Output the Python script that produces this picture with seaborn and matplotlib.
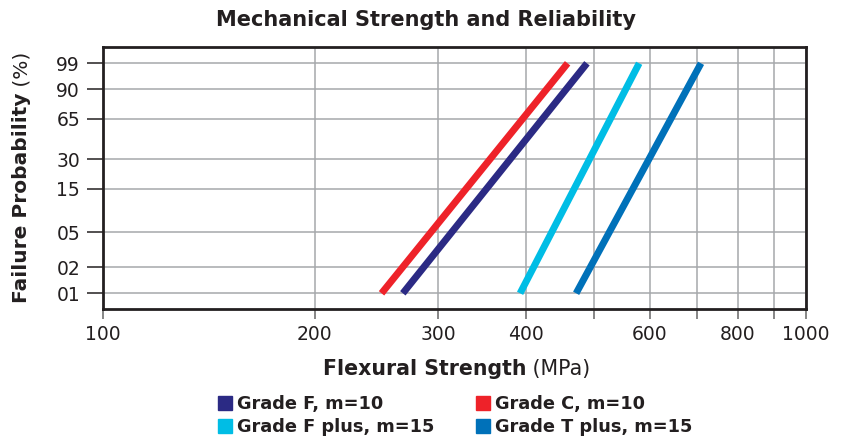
import numpy as np
import pandas as pd
import matplotlib
matplotlib.use("Agg")
import matplotlib.pyplot as plt
from matplotlib.lines import Line2D
from matplotlib.ticker import FixedLocator, FixedFormatter, NullLocator
import seaborn as sns

# ---------------- data ----------------
grades = ["Grade F, m=10", "Grade C, m=10", "Grade F plus, m=15", "Grade T plus, m=15"]
colors = ["#2B2A84", "#EE2229", "#00BDE5", "#0071B9"]
prob_pct = [1, 99]                      # failure probability at both line ends (%)
strength_low = [267, 249, 392, 471]     # MPa at 1 %
strength_high = [488, 458, 579, 709]    # MPa at 99 %

y_ticks = [99, 90, 65, 30, 15, 5, 2, 1]
y_tick_labels = ["99", "90", "65", "30", "15", "05", "02", "01"]
x_ticks = [100, 200, 300, 400, 500, 600, 700, 800, 900, 1000]
x_tick_labels = ["100", "200", "300", "400", "", "600", "", "800", "", "1000"]

rows = []
for g, lo, hi in zip(grades, strength_low, strength_high):
    rows.append({"grade": g, "strength": lo, "prob": prob_pct[0]})
    rows.append({"grade": g, "strength": hi, "prob": prob_pct[1]})
df = pd.DataFrame(rows)

sns.set_theme(style="white")
plt.rcParams["font.family"] = ["DejaVu Sans"]
dark = "#231F20"
gridc = "#A6A8AB"

fig = plt.figure(figsize=(8.43, 4.40), dpi=100)
ax = fig.add_axes([103 / 843, 1 - 309 / 440, (806 - 103) / 843, (309 - 47) / 440])

palette = dict(zip(grades, colors))
sns.lineplot(data=df, x="strength", y="prob", hue="grade", palette=palette,
             linewidth=5, solid_capstyle="butt", legend=False, ax=ax,
             estimator=None, sort=False)

# Weibull probability scale
def fwd(p):
    p = np.clip(np.asarray(p, dtype=float), 1e-6, 100 - 1e-6)
    return np.log(-np.log(1 - p / 100.0))

def inv(y):
    return 100.0 * (1 - np.exp(-np.exp(np.asarray(y, dtype=float))))

ax.set_xscale("log")
ax.set_yscale("function", functions=(fwd, inv))
ax.set_xlim(100, 1000)
ax.set_ylim(inv(-5.018), inv(1.961))

ax.xaxis.set_major_locator(FixedLocator(x_ticks))
ax.xaxis.set_major_formatter(FixedFormatter(x_tick_labels))
ax.xaxis.set_minor_locator(NullLocator())
ax.yaxis.set_major_locator(FixedLocator(y_ticks))
ax.yaxis.set_major_formatter(FixedFormatter(y_tick_labels))
ax.yaxis.set_minor_locator(NullLocator())

ax.grid(True, color=gridc, linewidth=1.1)
ax.set_axisbelow(True)
for s in ax.spines.values():
    s.set_color(dark)
    s.set_linewidth(2.0)
ax.tick_params(axis="y", which="major", left=True, length=11.5, width=1.1,
               color=dark, pad=5, labelsize=13.5, labelcolor=dark)
ax.tick_params(axis="x", which="major", bottom=True, length=7.2, width=1.1,
               color="#666666", pad=4, labelsize=13.5, labelcolor=dark)
ax.set_xlabel("")
ax.set_ylabel("")

# title
fig.text(426 / 843, 1 - 20 / 440, "Mechanical Strength and Reliability",
         ha="center", va="center", fontsize=15, fontweight="bold", color=dark)

# x label (bold + regular)
xl = fig.text(323 / 843, 1 - 369 / 440, "Flexural Strength", ha="left", va="center",
              fontsize=14.8, fontweight="bold", color=dark)
ax.annotate(" (MPa)", xy=(1, 0.5), xycoords=xl, ha="left", va="center",
            fontsize=14.8, color=dark)

# y label (bold + regular)
yl = fig.text(22 / 843, 1 - 303 / 440, "Failure Probability", rotation=90,
              ha="center", va="bottom", fontsize=14.5, fontweight="bold", color=dark)
ax.annotate(" (%)", xy=(0.5, 1), xycoords=yl, rotation=90, ha="center", va="bottom",
            fontsize=14.5, color=dark)

# legend (row-wise order: F, C / F plus, T plus)
order = [0, 2, 1, 3]
handles = [Line2D([], [], marker="s", linestyle="none", markersize=10,
                  markerfacecolor=colors[i], markeredgecolor=colors[i]) for i in order]
labels = [grades[i] for i in order]
leg = fig.legend(handles, labels, ncol=2, loc="upper center",
                 bbox_to_anchor=(455 / 843, 1 - 383 / 440), frameon=False,
                 prop=dict(weight="bold", size=12.8),
                 handlelength=0.8, handletextpad=0.3, columnspacing=2.3,
                 labelspacing=0.25, borderpad=0.2)
for t in leg.get_texts():
    t.set_color(dark)

fig.savefig("out.png", dpi=100)
